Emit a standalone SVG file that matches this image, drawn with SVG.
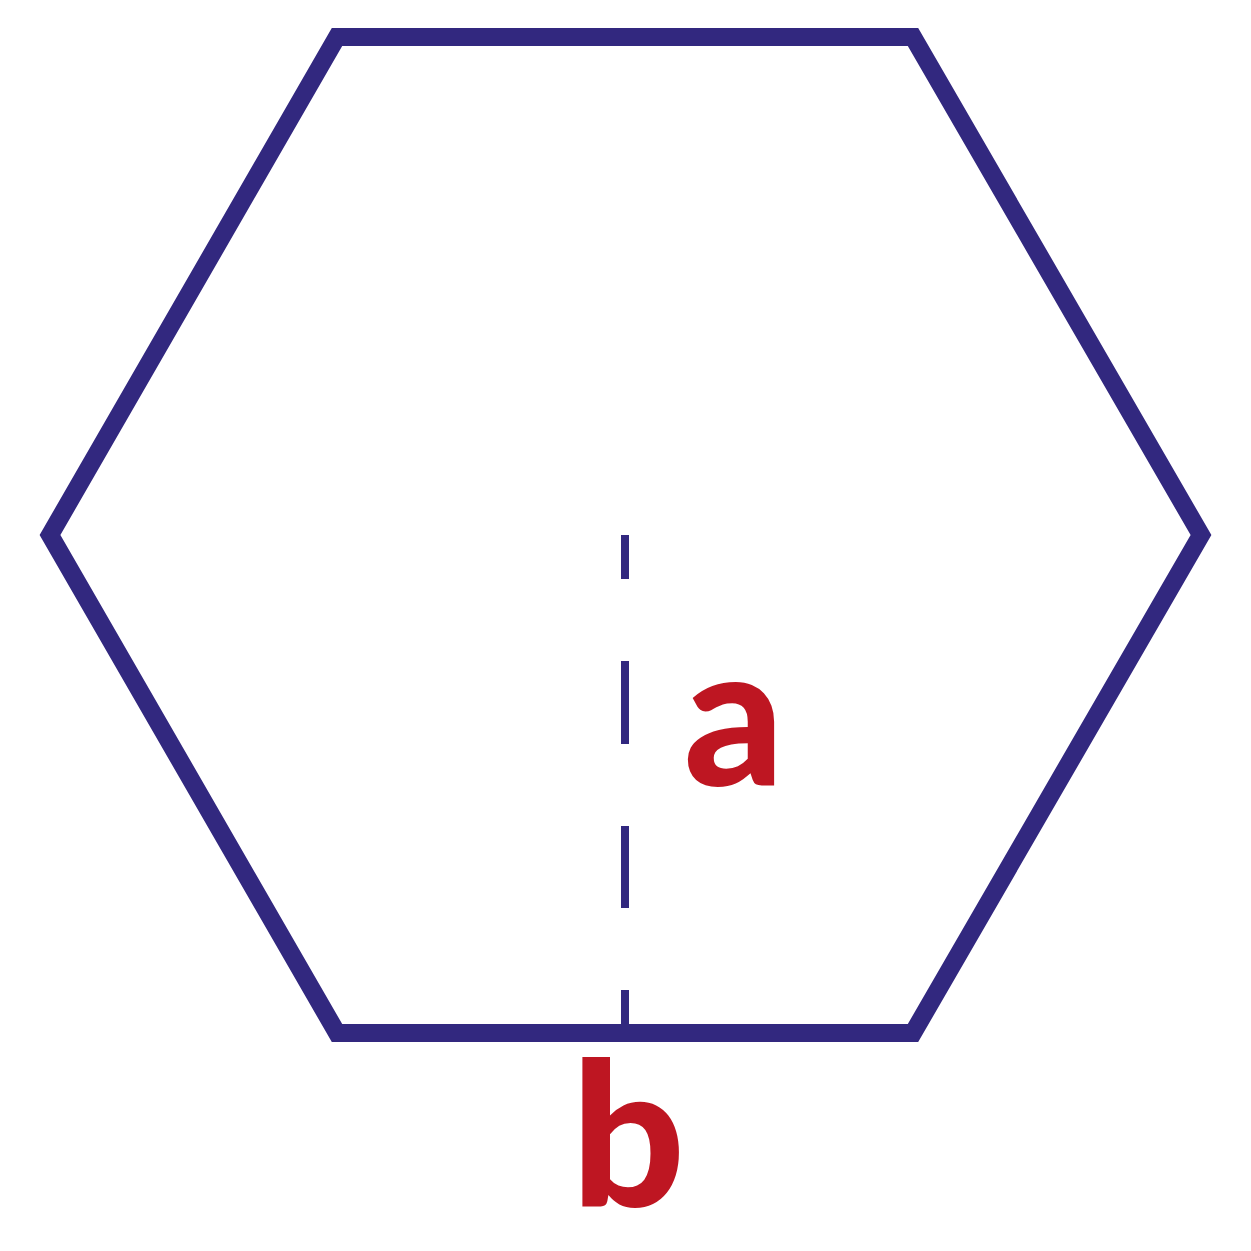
<svg xmlns="http://www.w3.org/2000/svg" width="1251" height="1251" viewBox="0 0 1251 1251">
<style>
.hex{fill:none;stroke:#32287F;stroke-width:18;stroke-linejoin:miter}
.dash{stroke:#32287F;stroke-width:8;stroke-dasharray:44 82 83 82 82 82 82}
.lbl{font-family:Lato,"Open Sans",sans-serif;font-weight:900;fill:#BE1622;text-anchor:middle}
</style>
<rect width="1251" height="1251" fill="#fff"/>
<g id="hexagon">
<polygon class="hex" points="337,37 913,37 1201,535 913,1033 337,1033 50,535"/>
</g>
<g id="connectors">
<line class="dash" x1="625" y1="535" x2="625" y2="1026"/>
</g>
<g id="label-a"><text class="lbl" x="734" y="785" font-size="196">a</text></g>
<g id="label-b"><text class="lbl" x="628" y="1207" font-size="200">b</text></g>
</svg>
